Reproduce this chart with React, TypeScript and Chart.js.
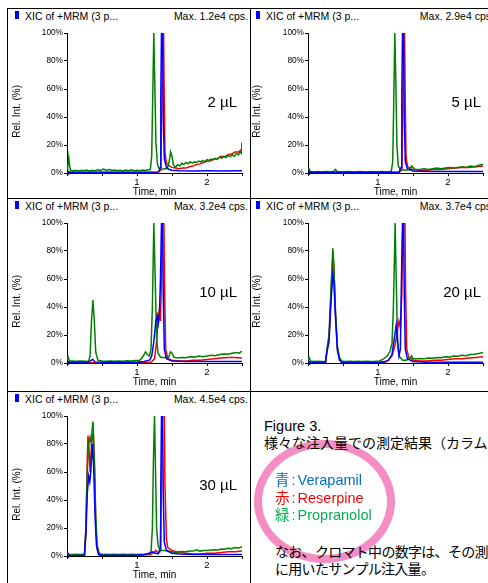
import React, { useEffect, useRef } from 'react';
import { Chart, registerables } from 'chart.js';

Chart.register(...registerables);

// ---------- data ----------
const timeMin = 0;
const timeMax = 2.5;
const timeStep = 0.5;
const timeTickLabels = [1, 2];
const intensityTicks = [0, 20, 40, 60, 80, 100];

const headerText = 'XIC of +MRM (3 p...';
const maxLabels = ['Max. 1.2e4 cps.', 'Max. 2.9e4 cps', 'Max. 3.2e4 cps.', 'Max. 3.7e4 cps', 'Max. 4.5e4 cps.'];
const volumeLabels = ['2 µL', '5 µL', '10 µL', '20 µL', '30 µL'];

// [time (min), relative intensity (%)]
const verapamil2 = [[0, 0.6], [0.3, 0.6], [0.6, 0.6], [0.9, 0.6], [1.2, 0.6], [1.31, 0.8], [1.33, 4], [1.34, 55], [1.35, 100], [1.365, 100], [1.375, 40], [1.39, 10], [1.42, 4], [1.46, 2.5], [1.5, 2], [1.6, 1.6], [1.8, 1.5], [2.0, 1.6], [2.2, 1.5], [2.5, 1.6]];
const reserpine2 = [[0, 0.3], [0.5, 0.3], [1.0, 0.3], [1.3, 0.5], [1.34, 2], [1.355, 50], [1.365, 100], [1.38, 100], [1.39, 50], [1.4, 15], [1.42, 7], [1.46, 5], [1.5, 4], [1.55, 3.5], [1.6, 3], [1.65, 3.5], [1.7, 3.5], [1.75, 4.5], [1.8, 5], [1.85, 6], [1.9, 6.5], [1.95, 7.5], [2.0, 8.5], [2.05, 8.5], [2.1, 10], [2.15, 10], [2.2, 12], [2.25, 11.5], [2.3, 13], [2.35, 13.5], [2.4, 15], [2.45, 15], [2.5, 17]];
const propranolol2 = [[0, 1], [0.01, 4], [0.025, 11], [0.035, 6], [0.05, 2], [0.08, 1.5], [0.12, 2], [0.16, 1.4], [0.2, 2], [0.24, 1.6], [0.28, 2.2], [0.32, 1.5], [0.36, 2], [0.4, 1.7], [0.44, 2.3], [0.48, 1.8], [0.52, 2.8], [0.56, 2], [0.6, 2.5], [0.64, 1.8], [0.68, 2.2], [0.72, 1.6], [0.76, 2], [0.8, 1.5], [0.84, 2.1], [0.88, 1.7], [0.92, 2.3], [0.96, 1.6], [1.0, 2], [1.04, 1.7], [1.08, 2.2], [1.12, 1.8], [1.16, 2.3], [1.19, 2.5], [1.21, 12], [1.225, 55], [1.24, 100], [1.255, 62], [1.27, 22], [1.29, 7], [1.31, 3.5], [1.35, 2.5], [1.39, 3], [1.43, 3], [1.46, 8], [1.48, 15], [1.5, 12], [1.52, 6], [1.55, 4], [1.58, 6], [1.61, 5], [1.64, 7], [1.67, 6], [1.7, 7.5], [1.73, 6.5], [1.76, 8], [1.79, 7], [1.82, 8], [1.85, 7.5], [1.88, 8.5], [1.91, 8], [1.94, 9], [1.97, 8], [2.0, 9.5], [2.03, 9], [2.06, 10], [2.09, 9.5], [2.12, 10.5], [2.15, 10], [2.18, 11.5], [2.21, 10.5], [2.24, 12], [2.27, 11], [2.3, 12.5], [2.33, 11.5], [2.36, 13], [2.39, 12], [2.42, 14], [2.45, 13], [2.47, 15], [2.49, 14], [2.5, 22]];

const verapamil5 = [[0, 0.5], [0.5, 0.5], [1.0, 0.5], [1.3, 0.6], [1.33, 4], [1.34, 55], [1.35, 100], [1.365, 100], [1.375, 40], [1.39, 8], [1.42, 3], [1.5, 1.5], [1.7, 1], [2.0, 1], [2.5, 1]];
const reserpine5 = [[0, 0.2], [0.5, 0.2], [1.0, 0.3], [1.3, 0.5], [1.34, 2], [1.355, 50], [1.365, 100], [1.38, 100], [1.39, 50], [1.4, 12], [1.42, 5], [1.46, 3], [1.5, 2.5], [1.6, 2], [1.7, 2], [1.8, 2.5], [1.9, 2.5], [2.0, 3], [2.1, 3.5], [2.2, 4], [2.3, 4], [2.4, 4.5], [2.5, 5]];
const propranolol5 = [[0, 0.5], [0.015, 3], [0.035, 1], [0.08, 0.8], [0.14, 1], [0.2, 0.8], [0.26, 1], [0.32, 0.8], [0.37, 1.2], [0.39, 2.5], [0.42, 1], [0.5, 0.8], [0.58, 1], [0.66, 0.8], [0.74, 1], [0.82, 0.8], [0.9, 1], [0.98, 0.8], [1.06, 1], [1.14, 0.8], [1.19, 1.2], [1.21, 8], [1.225, 50], [1.24, 100], [1.255, 65], [1.27, 20], [1.29, 5], [1.32, 2.5], [1.4, 2], [1.45, 2.5], [1.48, 5], [1.5, 4], [1.53, 2.5], [1.6, 2.5], [1.66, 3], [1.72, 2.5], [1.78, 3], [1.84, 3.5], [1.9, 3], [1.96, 3.5], [2.02, 4], [2.08, 3.5], [2.14, 4], [2.2, 4.5], [2.26, 4], [2.32, 5], [2.38, 4.5], [2.44, 5.5], [2.5, 6]];

const verapamil10 = [[0, 0.5], [0.3, 0.5], [0.35, 2], [0.37, 2.5], [0.4, 0.8], [0.5, 0.5], [1.0, 0.5], [1.1, 1], [1.18, 2], [1.21, 5], [1.24, 15], [1.27, 30], [1.29, 34], [1.305, 28], [1.32, 33], [1.335, 60], [1.35, 100], [1.365, 100], [1.375, 50], [1.39, 10], [1.42, 3], [1.5, 1.5], [1.7, 1], [2.0, 1], [2.5, 1]];
const reserpine10 = [[0, 0.2], [0.5, 0.2], [1.0, 0.3], [1.2, 0.5], [1.25, 3], [1.28, 15], [1.3, 30], [1.32, 38], [1.335, 30], [1.35, 60], [1.36, 100], [1.385, 100], [1.395, 50], [1.41, 10], [1.44, 3], [1.5, 2], [1.6, 1.5], [1.7, 1.5], [1.8, 2], [1.9, 2], [2.0, 2.5], [2.1, 3], [2.2, 3.5], [2.3, 4], [2.4, 4], [2.5, 3.5]];
const propranolol10 = [[0, 0.5], [0.015, 4.5], [0.035, 1.5], [0.08, 1.5], [0.14, 1.2], [0.2, 1.5], [0.26, 1.3], [0.31, 1.5], [0.33, 5], [0.35, 30], [0.37, 45], [0.39, 30], [0.41, 8], [0.44, 2], [0.5, 1.5], [0.56, 1.2], [0.62, 1.5], [0.68, 1.3], [0.74, 1.5], [0.8, 1.3], [0.86, 1.6], [0.92, 1.4], [0.98, 1.7], [1.04, 2], [1.09, 5], [1.12, 8], [1.15, 6], [1.18, 5], [1.2, 10], [1.22, 40], [1.24, 100], [1.26, 60], [1.28, 18], [1.3, 7], [1.34, 4], [1.4, 4], [1.45, 4], [1.48, 8], [1.5, 7], [1.53, 4], [1.58, 3.5], [1.64, 4], [1.7, 3.8], [1.76, 4.5], [1.82, 4.2], [1.88, 5], [1.94, 4.5], [2.0, 5], [2.06, 5.5], [2.12, 5.2], [2.18, 6], [2.24, 6.5], [2.3, 6.2], [2.36, 7], [2.42, 7.5], [2.46, 7], [2.5, 8.5]];

const verapamil20 = [[0, 0.3], [0.25, 0.3], [0.27, 8], [0.3, 15], [0.33, 45], [0.355, 63], [0.37, 58], [0.39, 35], [0.42, 9], [0.45, 2], [0.48, 0.5], [0.7, 0.3], [1.0, 0.3], [1.1, 1], [1.15, 2], [1.2, 6], [1.24, 20], [1.26, 27], [1.28, 15], [1.3, 5], [1.32, 10], [1.335, 60], [1.35, 100], [1.365, 100], [1.375, 50], [1.39, 10], [1.42, 3], [1.5, 1], [1.7, 0.5], [2.0, 0.5], [2.5, 0.5]];
const reserpine20 = [[0, 0.2], [0.25, 0.2], [0.27, 8], [0.3, 18], [0.33, 50], [0.355, 76], [0.37, 68], [0.39, 38], [0.42, 10], [0.45, 3], [0.48, 1], [0.7, 0.3], [1.0, 0.3], [1.1, 0.5], [1.15, 2], [1.2, 5], [1.24, 12], [1.27, 20], [1.3, 30], [1.32, 25], [1.34, 50], [1.355, 100], [1.385, 100], [1.395, 50], [1.41, 10], [1.44, 4], [1.5, 2], [1.6, 1.5], [1.7, 1.5], [1.8, 2], [1.9, 2], [2.0, 2.5], [2.1, 3], [2.2, 3], [2.3, 3.5], [2.4, 4], [2.5, 4.5]];
const propranolol20 = [[0, 0.5], [0.015, 4], [0.035, 1.5], [0.08, 1], [0.14, 1.2], [0.2, 1], [0.25, 1], [0.27, 10], [0.3, 20], [0.33, 55], [0.355, 82], [0.37, 70], [0.39, 40], [0.42, 12], [0.45, 4], [0.48, 1.5], [0.54, 1], [0.6, 1.2], [0.66, 1], [0.72, 1.2], [0.78, 1], [0.84, 1.2], [0.9, 1], [0.96, 1.2], [1.02, 1.5], [1.08, 3], [1.13, 5], [1.17, 8], [1.2, 14], [1.22, 40], [1.245, 100], [1.26, 60], [1.28, 15], [1.3, 5], [1.35, 2], [1.4, 2], [1.45, 3], [1.48, 5], [1.5, 3], [1.55, 3], [1.6, 3.2], [1.66, 3], [1.72, 3.6], [1.78, 3.4], [1.84, 4], [1.9, 3.8], [1.96, 4.5], [2.02, 4.2], [2.08, 5], [2.14, 4.8], [2.2, 5.5], [2.26, 5.2], [2.32, 6], [2.38, 6.2], [2.44, 6.8], [2.5, 7.5]];

const verapamil30 = [[0, 0.3], [0.25, 0.5], [0.27, 15], [0.29, 45], [0.31, 57], [0.325, 53], [0.34, 60], [0.36, 80], [0.38, 65], [0.4, 30], [0.42, 8], [0.45, 1], [0.5, 0.5], [1.0, 0.5], [1.1, 1], [1.18, 2], [1.22, 3], [1.26, 2], [1.3, 1.5], [1.33, 5], [1.34, 50], [1.35, 100], [1.365, 100], [1.375, 45], [1.39, 10], [1.42, 4], [1.5, 2], [1.6, 1.5], [1.8, 1], [2.0, 1], [2.5, 1]];
const reserpine30 = [[0, 0.2], [0.25, 0.5], [0.27, 20], [0.29, 70], [0.3, 86], [0.315, 75], [0.33, 60], [0.35, 80], [0.37, 95], [0.39, 70], [0.41, 25], [0.43, 5], [0.46, 1], [0.5, 0.5], [1.0, 0.5], [1.2, 1], [1.25, 3], [1.27, 4], [1.3, 2], [1.33, 3], [1.35, 50], [1.36, 100], [1.39, 100], [1.4, 50], [1.42, 12], [1.44, 6], [1.5, 4], [1.6, 2.5], [1.7, 2], [1.8, 1.5], [1.9, 1.5], [2.0, 2], [2.1, 2], [2.2, 2.5], [2.3, 3], [2.4, 3], [2.5, 3.5]];
const propranolol30 = [[0, 0.5], [0.015, 2], [0.035, 1], [0.08, 1], [0.14, 1.2], [0.2, 1], [0.25, 1.5], [0.27, 20], [0.29, 60], [0.31, 80], [0.33, 85], [0.35, 80], [0.37, 96], [0.39, 70], [0.41, 30], [0.43, 8], [0.46, 2], [0.5, 1], [0.56, 1.2], [0.62, 1], [0.68, 1.2], [0.74, 1], [0.8, 1.2], [0.86, 1], [0.92, 1.2], [0.98, 1], [1.04, 1.2], [1.1, 1], [1.16, 1.5], [1.2, 3], [1.22, 20], [1.235, 70], [1.25, 100], [1.265, 60], [1.28, 20], [1.3, 8], [1.33, 4], [1.4, 4], [1.45, 3.5], [1.5, 3], [1.55, 2.5], [1.6, 3], [1.65, 3.2], [1.7, 3], [1.75, 3.5], [1.8, 3.5], [1.85, 4.5], [1.9, 3.5], [1.95, 4], [2.0, 4], [2.05, 4.2], [2.1, 4.5], [2.15, 4.2], [2.2, 5], [2.25, 4.8], [2.3, 5.5], [2.35, 5.2], [2.4, 6], [2.45, 5.8], [2.5, 6.5]];

const panelSeries = [
  [verapamil2, reserpine2, propranolol2],
  [verapamil5, reserpine5, propranolol5],
  [verapamil10, reserpine10, propranolol10],
  [verapamil20, reserpine20, propranolol20],
  [verapamil30, reserpine30, propranolol30],
];

const legendKanji = ['青', '赤', '緑'];
const legendNames = ['Verapamil', 'Reserpine', 'Propranolol'];
const legendColors = ['rgb(0,112,192)', 'rgb(255,0,0)', 'rgb(0,176,80)'];

// ---------- layout ----------
const FONT = '"Liberation Sans", Arial, sans-serif';
const colX = [7, 250];
const rowY = [8, 198, 391];
const seriesColors = ['#0000ff', '#ff0000', '#008000'];

const originMarker = {
  id: 'originMarker',
  afterDraw(chart: any) {
    const { ctx, chartArea } = chart;
    ctx.save();
    ctx.fillStyle = '#000080';
    ctx.beginPath();
    ctx.moveTo(chartArea.left, chartArea.bottom - 3);
    ctx.lineTo(chartArea.left + 4, chartArea.bottom);
    ctx.lineTo(chartArea.left, chartArea.bottom + 3);
    ctx.closePath();
    ctx.fill();
    ctx.restore();
  },
};

function Panel({ index, col, row }: { index: number; col: number; row: number }) {
  const ref = useRef<HTMLCanvasElement>(null);
  const left = colX[col];
  const top = rowY[row];
  const yW = col === 0 ? 60 : 58;
  const padRight = col === 0 ? 8 : 10;
  useEffect(() => {
    const series = panelSeries[index];
    const order = [0, 2, 1]; // verapamil on top, then propranolol, reserpine
    const chart = new Chart(ref.current!, {
      type: 'line',
      data: {
        datasets: order.map((k) => ({
          data: series[k].map(([x, y]) => ({ x, y })),
          borderColor: seriesColors[k],
          borderWidth: 1.5,
          pointRadius: 0,
          tension: 0,
          fill: false,
        })),
      },
      options: {
        animation: false,
        responsive: false,
        parsing: false,
        events: [],
        layout: { padding: { top: 8, right: padRight, left: 0, bottom: 0 } },
        plugins: { legend: { display: false }, tooltip: { enabled: false } },
        scales: {
          x: {
            type: 'linear',
            min: timeMin,
            max: timeMax,
            afterFit: (s: any) => { s.height = 25; },
            ticks: {
              stepSize: timeStep,
              autoSkip: false,
              maxRotation: 0,
              padding: 1,
              color: '#000',
              font: { family: FONT, size: 9.5 },
              callback: (v: any) => (timeTickLabels.includes(Number(v)) ? String(v) : ''),
            },
            grid: { display: true, drawOnChartArea: false, drawTicks: true, tickLength: 3, color: '#000' },
            border: { display: true, color: '#000', width: 1 },
            title: { display: true, text: 'Time, min', color: '#000', font: { family: FONT, size: 10 }, padding: { top: 0, bottom: 0 } },
          },
          y: {
            type: 'linear',
            min: 0,
            max: 100,
            afterFit: (s: any) => { s.width = yW; },
            afterBuildTicks: (s: any) => { s.ticks = intensityTicks.map((v) => ({ value: v })); },
            ticks: {
              padding: 1,
              color: '#000',
              font: { family: FONT, size: 8.3 },
              callback: (v: any) => v + '%',
            },
            grid: { display: true, drawOnChartArea: false, drawTicks: true, tickLength: 3, color: '#000' },
            border: { display: true, color: '#000', width: 1 },
            title: {
              display: true,
              text: 'Rel. Int. (%)      ',
              color: '#000',
              font: { family: FONT, size: 10 },
              padding: { top: col === 0 ? 4 : 1, bottom: 0 },
            },
          },
        },
      },
      plugins: [originMarker],
    });
    return () => chart.destroy();
  }, []);

  const sq = col === 0 ? 8 : 6;
  const tx = col === 0 ? 18 : 16;
  return (
    <>
      <div style={{ position: 'absolute', left: left + sq, top: top + 3, width: 4, height: 8, background: '#0000ff' }} />
      <div style={{ position: 'absolute', left: left + tx, top: top + 1, fontSize: 10.5, lineHeight: '14px', whiteSpace: 'nowrap', color: '#000' }}>{headerText}</div>
      <div style={{ position: 'absolute', left: left, top: top + 1, width: 241, textAlign: 'right', fontSize: 10.5, lineHeight: '14px', whiteSpace: 'nowrap', color: '#000' }}>{maxLabels[index]}</div>
      <canvas ref={ref} width={243} height={173} style={{ position: 'absolute', left, top: top + 17, width: 243, height: 173, display: 'block' }} />
      <div style={{ position: 'absolute', left: left + (col === 0 ? 150 : 151), width: 80, top: top + 85, textAlign: 'right', fontSize: 15, lineHeight: '18px', whiteSpace: 'nowrap', color: '#000' }}>{volumeLabels[index]}</div>
    </>
  );
}

export default function App() {
  const panels = [
    { col: 0, row: 0 },
    { col: 1, row: 0 },
    { col: 0, row: 1 },
    { col: 1, row: 1 },
    { col: 0, row: 2 },
  ];
  const line = (l: number, t: number, w: number, h: number) => (
    <div style={{ position: 'absolute', left: l, top: t, width: w, height: h, background: '#000' }} />
  );
  const cjk = '"Liberation Sans", "Noto Sans CJK JP", sans-serif';
  return (
    <div style={{ position: 'absolute', left: 0, top: 0, width: 488, height: 583, overflow: 'hidden', background: '#fff', fontFamily: FONT }}>
      {line(7, 8, 481, 1)}
      {line(7, 198, 481, 1)}
      {line(7, 391, 481, 1)}
      {line(7, 8, 1, 575)}
      {line(250, 8, 1, 575)}
      {panels.map((p, i) => (
        <Panel key={i} index={i} col={p.col} row={p.row} />
      ))}
      <div style={{ position: 'absolute', left: 254, top: 440, width: 141, height: 123, boxSizing: 'border-box', border: '8px solid rgb(245,140,195)', borderRadius: '50%' }} />
      <div style={{ position: 'absolute', left: 264, top: 418, fontFamily: cjk, fontSize: 14.5, lineHeight: '17px', whiteSpace: 'nowrap', color: '#000' }}>
        <div>Figure 3.</div>
        <div style={{ fontSize: 14 }}>様々な注入量での測定結果（カラム</div>
      </div>
      <div style={{ position: 'absolute', left: 275, top: 472, fontFamily: cjk, fontSize: 14.5, lineHeight: '17.5px', whiteSpace: 'nowrap' }}>
        {legendNames.map((name, i) => (
          <div key={name} style={{ color: legendColors[i] }}>
            {legendKanji[i]}<span style={{ margin: '0 2px 0 2px' }}>:</span>{name}
          </div>
        ))}
      </div>
      <div style={{ position: 'absolute', left: 275, top: 544, fontFamily: cjk, fontSize: 14, letterSpacing: '-0.7px', lineHeight: '17px', whiteSpace: 'nowrap', color: '#000' }}>
        <div>なお、クロマト中の数字は、その測</div>
        <div>に用いたサンプル注入量。</div>
      </div>
    </div>
  );
}
